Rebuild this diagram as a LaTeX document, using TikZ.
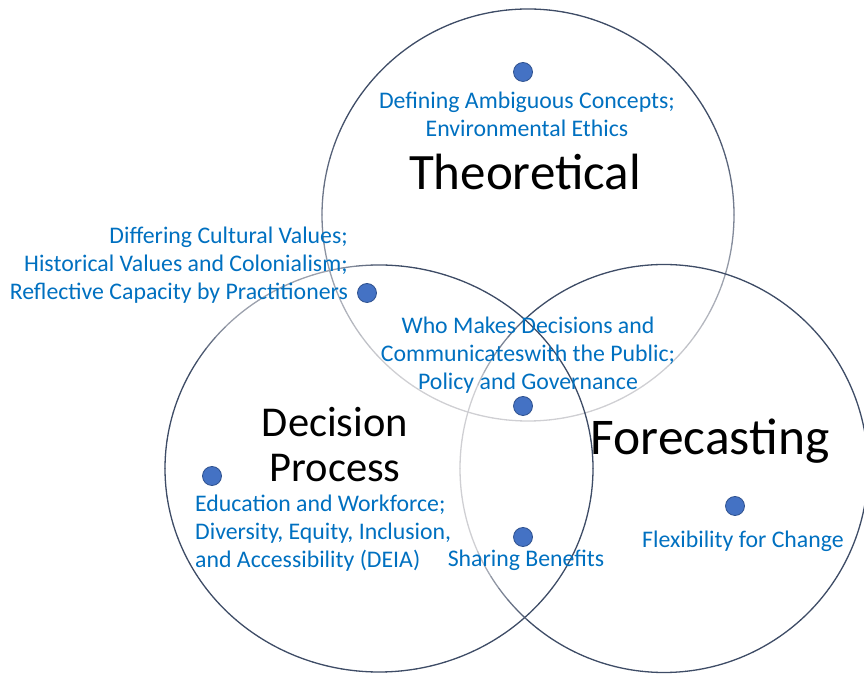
\documentclass[tikz,border=0pt]{standalone}
\usepackage{fontspec}
\setmainfont{Carlito}
\definecolor{ringdark}{HTML}{3E4C66}
\definecolor{ringlight}{HTML}{CFCFD3}
\definecolor{itemblue}{HTML}{0070C0}
\definecolor{dotfill}{HTML}{4472C4}
\definecolor{dotline}{HTML}{2F528F}
\tikzset{
  ringseg/.style={line width=1.3pt, line cap=round},
  dot/.style={circle, fill=dotfill, draw=dotline, line width=0.8pt, minimum size=19pt, inner sep=0pt},
  item/.style={text=itemblue, font=\fontsize{23.8}{28}\selectfont, inner sep=0pt},
  title/.style={text=black, inner sep=0pt}
}
\begin{document}
\begin{tikzpicture}[x=1pt,y=1pt]
\useasboundingbox (0,0) rectangle (864,674);
% Theoretical circle (dark top, light bottom)
\foreach \a in {0,4,...,356}{
  \pgfmathsetmacro{\p}{min(100,max(0,60+80*sin(\a+2)))}
  \draw[ringseg, color=ringdark!\p!ringlight] (528,459) ++(\a:206) arc[start angle=\a, delta angle=4, radius=206];
}
% Decision circle (slightly elliptical, light patch upper left)
\foreach \a in {0,4,...,356}{
  \pgfmathsetmacro{\d}{abs(mod(\a+2-118+540,360)-180)}
  \pgfmathsetmacro{\p}{min(100,max(35,(\d-8)/22*100))}
  \draw[ringseg, color=ringdark!\p!ringlight] (379,205.5) ++(\a:214 and 203.5) arc[start angle=\a, delta angle=4, x radius=214, y radius=203.5];
}
% Forecasting circle (light on the left)
\foreach \a in {0,4,...,356}{
  \pgfmathsetmacro{\d}{abs(mod(\a+2-180+540,360)-180)}
  \pgfmathsetmacro{\p}{min(100,max(0,(\d-22)/28*100))}
  \draw[ringseg, color=ringdark!\p!ringlight] (664,205.5) ++(\a:204) arc[start angle=\a, delta angle=4, radius=204];
}
% dots
\node[dot] (d1) at (523,602) {};
\node[dot] (d2) at (367,381) {};
\node[dot] (d3) at (523,268) {};
\node[dot] (d4) at (212,198) {};
\node[dot] (d5) at (523,137) {};
\node[dot] (d6) at (735,168) {};
% titles
\node[title, font=\fontsize{51}{60}\selectfont] (theo) at (525,502) {Theoretical};
\node[title, font=\fontsize{51.5}{60}\selectfont] (fore) at (710,233) {Forecasting};
\node[title, font=\fontsize{42.5}{45}\selectfont, align=center] (deci) at (335,229) {Decision\\Process};
% items
\node[item, align=center] (t1) at (527,560) {Defining Ambiguous Concepts;\\Environmental Ethics};
\node[item, align=right, anchor=east] (t2) at (348,409) {Differing Cultural Values;\\Historical Values and Colonialism;\\Reflective Capacity by Practitioners};
\node[item, align=center] (t3) at (528,319) {Who Makes Decisions and\\Communicateswith the Public;\\Policy and Governance};
\node[item, align=left, anchor=west] (t4) at (195,141) {Education and Workforce;\\Diversity, Equity, Inclusion,\\and Accessibility (DEIA)};
\node[item] (t5) at (526,114) {Sharing Benefits};
\node[item] (t6) at (743,133) {Flexibility for Change};
\end{tikzpicture}
\end{document}
